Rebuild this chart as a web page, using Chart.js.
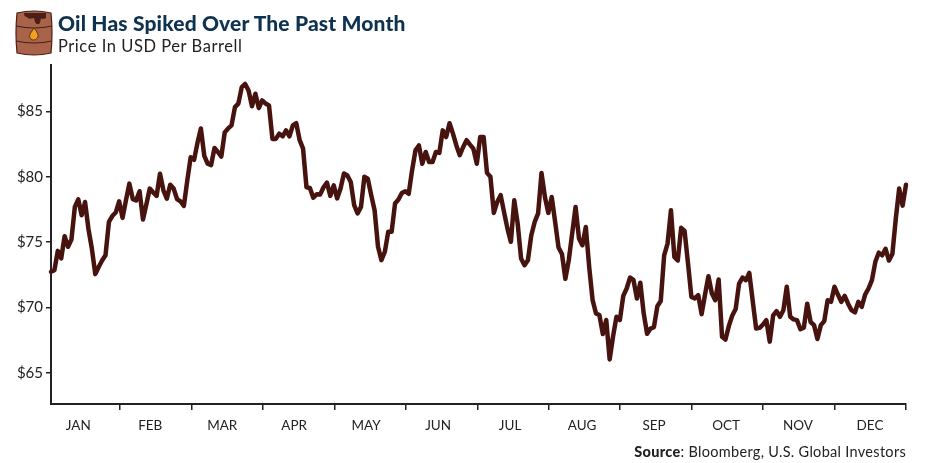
<!DOCTYPE html>
<html>
<head>
<meta charset="utf-8">
<title>Oil Has Spiked Over The Past Month</title>
<script src="https://cdn.jsdelivr.net/npm/chart.js@4"></script>
<style>
  html, body { margin: 0; padding: 0; background: #fff; }
  #wrap { position: relative; width: 930px; height: 463px; overflow: hidden; font-family: Lato, "Open Sans", sans-serif; }
  #chart { position: absolute; left: 0; top: 0; }
  #barrel { position: absolute; left: 15px; top: 10px; }
  #title { position: absolute; left: 58px; top: 10px; font-size: 21px; font-weight: 900; color: #0f3250; white-space: nowrap; letter-spacing: 0.15px; }
  #subtitle { position: absolute; left: 58px; top: 36px; font-size: 16.5px; color: #222; white-space: nowrap; letter-spacing: 0.55px; }
  #source { position: absolute; right: 24px; top: 443px; font-size: 14.5px; color: #222; white-space: nowrap; letter-spacing: 0.3px; }
  #source b { font-weight: 900; }
</style>
</head>
<body>
<div id="wrap">
  <canvas id="chart" width="930" height="463"></canvas>
  <svg id="barrel" width="38" height="46" viewBox="0 0 38 46">
    <path d="M2 3 Q19 -1 36 3 Q38 23 36 43 Q19 47 2 43 Q0 23 2 3 Z" fill="#a8634a" stroke="#4a1f17" stroke-width="1.2"/>
    <path d="M1 16 Q19 20 37 16 M1 31 Q19 35 37 31" fill="none" stroke="#4a1f17" stroke-width="1.2"/>
    <path d="M9 3 H31 V8 Q27 10 26 8 L25 13 Q22 16 20 12 L19 8 Q13 10 12 7 Q9 7 9 3 Z" fill="#4a1f17"/>
    <path d="M19 18 Q24 24 23 27 Q21 31 17 30 Q13 27 15 24 Z" fill="#f0a11f" stroke="#4a1f17" stroke-width="0.8"/>
  </svg>
  <div id="title">Oil Has Spiked Over The Past Month</div>
  <div id="subtitle">Price In USD Per Barrell</div>
  <div id="source"><b>Source</b>: Bloomberg, U.S. Global Investors</div>
</div>
<script>
// Month labels and y axis ticks
const months = ['JAN', 'FEB', 'MAR', 'APR', 'MAY', 'JUN', 'JUL', 'AUG', 'SEP', 'OCT', 'NOV', 'DEC'];
const priceTicks = [65, 70, 75, 80, 85];

// Oil price per trading day
const oilPrice = [
  72.74, 72.86, 74.34, 73.76, 75.46, 74.65, 75.2, 77.7, 78.28, 77.06,
  78.08, 76.0, 74.5, 72.56, 73.1, 73.6, 74.0, 76.55, 77.0, 77.27,
  78.13, 76.86, 78.2, 79.48, 78.3, 78.2, 78.9, 76.73, 77.9, 79.1,
  78.8, 78.54, 80.24, 78.97, 78.33, 79.4, 79.1, 78.3, 78.13, 77.77,
  79.7, 81.5, 81.3, 82.6, 83.7, 81.6, 81.0, 80.9, 82.2, 81.9,
  81.55, 83.4, 83.7, 83.93, 85.33, 85.6, 86.86, 87.1, 86.6, 85.4,
  86.35, 85.26, 85.84, 85.6, 85.46, 82.9, 82.9, 83.3, 83.1, 83.55,
  83.1, 83.93, 84.1, 82.8, 82.15, 79.2, 79.15, 78.4, 78.67, 78.64,
  79.2, 79.56, 78.54, 79.35, 78.35, 79.1, 80.25, 80.1, 79.6, 77.83,
  77.2, 77.7, 80.0, 79.86, 78.6, 77.45, 74.65, 73.63, 74.27, 75.8,
  75.8, 77.96, 78.26, 78.77, 78.9, 78.7, 80.5, 82.03, 82.4, 81.0,
  81.9, 81.14, 81.14, 81.9, 81.83, 83.55, 83.04, 84.1, 83.3, 82.4,
  81.65, 82.28, 82.8, 82.46, 82.15, 81.0, 83.04, 83.04, 80.3, 80.0,
  77.24, 78.08, 78.6, 77.3, 76.04, 75.03, 78.2, 76.43, 73.75, 73.24,
  73.63, 75.53, 76.55, 77.2, 80.29, 78.46, 77.24, 78.46, 76.55, 74.6,
  74.1, 72.2, 73.63, 75.66, 77.7, 75.28, 74.77, 76.17, 73.1, 70.57,
  69.55, 69.43, 67.98, 69.05, 66.04, 67.8, 69.3, 69.05, 70.9, 71.46,
  72.3, 72.1, 70.7, 71.9, 69.55, 68.0, 68.4, 68.5, 70.1, 70.5,
  74.0, 74.9, 77.44, 73.87, 73.6, 76.1, 75.86, 73.4, 70.82, 70.7,
  70.95, 69.5, 71.0, 72.4, 71.1, 70.57, 72.15, 67.77, 67.56, 68.6,
  69.4, 69.9, 71.84, 72.3, 72.1, 72.65, 70.5, 68.4, 68.45, 68.7,
  69.04, 67.4, 69.4, 69.73, 69.3, 69.8, 71.6, 69.3, 69.1, 69.04,
  68.35, 68.46, 70.3, 68.9, 68.66, 67.6, 68.66, 68.97, 70.57, 70.44,
  71.6, 71.0, 70.44, 70.9, 70.3, 69.8, 69.63, 70.44, 70.06, 71.0,
  71.46, 72.1, 73.5, 74.2, 74.0, 74.5, 73.6, 74.1, 76.8, 79.1,
  77.8, 79.4
];

const lastDay = oilPrice.length - 1;
// January comes out a little shorter than the other months on the axis
const firstMonthEnd = 20.3;
const monthLength = (lastDay - firstMonthEnd) / (months.length - 1);
// the month names sit a little left of the middle of each month, more so early in the year
const firstLabelDay = 8.0;
const labelStep = 21.13;

const axisColor = '#222';
const tickFont = { family: 'Lato, "Open Sans", sans-serif', size: 15 };

new Chart(document.getElementById('chart').getContext('2d'), {
  type: 'line',
  data: {
    datasets: [{
      data: oilPrice.map((price, day) => ({ x: day, y: price })),
      borderColor: '#47130f',
      borderWidth: 4.5,
      pointRadius: 0,
      tension: 0,
      borderJoinStyle: 'round',
      borderCapStyle: 'round',
      clip: false
    }]
  },
  options: {
    responsive: false,
    animation: false,
    layout: { padding: { top: 65, right: 24, left: 0, bottom: 0 } },
    plugins: { legend: { display: false }, title: { display: false }, tooltip: { enabled: false } },
    scales: {
      y: {
        type: 'linear',
        min: 62.63,
        max: 88.55,
        afterFit: scale => { scale.width = 51; },
        afterBuildTicks: scale => { scale.ticks = priceTicks.map(value => ({ value })); },
        border: { color: axisColor, width: 2 },
        grid: { drawOnChartArea: false, drawTicks: true, tickLength: 5, color: axisColor, lineWidth: 1.5 },
        ticks: { color: '#222', font: tickFont, padding: 3, callback: value => '$' + value }
      },
      x: {
        type: 'linear',
        min: 0,
        max: lastDay,
        position: 'bottom',
        afterFit: scale => { scale.height = 8; },
        afterBuildTicks: scale => { scale.ticks = months.map((m, i) => ({ value: firstMonthEnd + i * monthLength })); },
        border: { color: axisColor, width: 2 },
        grid: { drawOnChartArea: false, drawTicks: true, tickLength: 6, color: axisColor, lineWidth: 1.5 },
        ticks: { display: false }
      },
      monthNames: {
        type: 'linear',
        axis: 'x',
        min: 0,
        max: lastDay,
        position: 'bottom',
        afterFit: scale => { scale.height = 51; },
        afterBuildTicks: scale => { scale.ticks = months.map((m, i) => ({ value: firstLabelDay + i * labelStep })); },
        border: { display: false },
        grid: { display: false },
        ticks: {
          color: '#222',
          font: { family: tickFont.family, size: 13.5 },
          maxRotation: 0,
          autoSkip: false,
          padding: -2,
          callback: (value, i) => months[i]
        }
      }
    }
  }
});
</script>
</body>
</html>
